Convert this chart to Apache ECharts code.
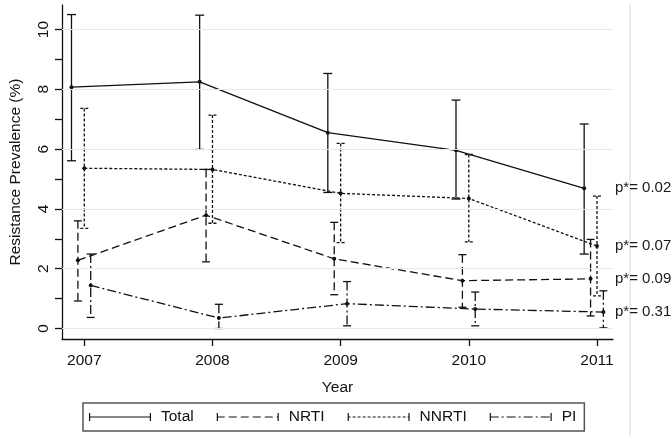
<!DOCTYPE html>
<html><head><meta charset="utf-8">
<script src="https://cdn.jsdelivr.net/npm/echarts@6/dist/echarts.min.js"></script>
<style>html,body{margin:0;padding:0;background:#fff}#c{width:672px;height:439px}</style>
</head><body><div id="c"></div>
<script>
// ---- data ----
const years = [2007, 2008, 2009, 2010, 2011];
const seriesNames = ['Total', 'NRTI', 'NNRTI', 'PI'];
const totalMean = [8.07, 8.25, 6.55, 5.96, 4.69];
const totalLow  = [5.61, 5.99, 4.55, 4.33, 2.49];
const totalHigh = [10.50, 10.48, 8.53, 7.64, 6.84];
const nrtiMean  = [2.28, 3.79, 2.33, 1.60, 1.66];
const nrtiLow   = [0.92, 2.23, 1.13, 0.71, 0.42];
const nrtiHigh  = [3.60, 5.32, 3.55, 2.47, 2.98];
const nnrtiMean = [5.36, 5.32, 4.52, 4.35, 2.76];
const nnrtiLow  = [3.35, 3.52, 2.87, 2.90, 1.09];
const nnrtiHigh = [7.36, 7.14, 6.19, 5.82, 4.43];
const piMean    = [1.44, 0.35, 0.83, 0.65, 0.55];
const piLow     = [0.37, 0.00, 0.09, 0.09, 0.02];
const piHigh    = [2.49, 0.81, 1.57, 1.22, 1.26];
// p-values in the order of seriesNames
const pValues   = ['0.02', '0.09', '0.07', '0.31'];
const yTickValues  = [0, 1, 2, 3, 4, 5, 6, 7, 8, 9, 10];
const yLabelValues = [0, 2, 4, 6, 8, 10];

// ---- styling ----
const FONT = 'Liberation Sans';
const INK = '#111';
const xMin = 2006.826, xMax = 2011.125;
const yMin = -0.351, yMax = 10.82;
const dodge = [-0.1, -0.05, 0, 0.05];
const dashes = [null, [8, 4], [3, 2], [9, 3, 2, 3]];
const means = [totalMean, nrtiMean, nnrtiMean, piMean];
const lows = [totalLow, nrtiLow, nnrtiLow, piLow];
const highs = [totalHigh, nrtiHigh, nnrtiHigh, piHigh];

function iconPath(pattern) {
  const W = 62, H = 8, t = 1.2, y0 = H / 2 - t / 2;
  let d = `M0,0h${t}v${H}h-${t}z M${W - t},0h${t}v${H}h-${t}z`;
  const pat = pattern || [W];
  let x = 0, i = 0;
  while (x < W) {
    const len = pat[i % pat.length];
    if (i % 2 === 0) {
      const x2 = Math.min(x + len, W);
      d += ` M${x},${y0}h${x2 - x}v${t}h-${x2 - x}z`;
    }
    x += len; i++;
  }
  return 'path://' + d;
}

function errRender(dash, capW) {
  return function (params, api) {
    const x = api.value(0), lo = api.value(1), hi = api.value(2);
    const p1 = api.coord([x, hi]), p2 = api.coord([x, lo]);
    const style = { stroke: INK, lineWidth: 1.3, lineDash: dash || null, fill: null };
    return { type: 'group', children: [
      { type: 'line', shape: { x1: p1[0], y1: p1[1], x2: p2[0], y2: p2[1] }, style },
      { type: 'line', shape: { x1: p1[0] - capW / 2, y1: p1[1], x2: p1[0] + capW / 2, y2: p1[1] }, style },
      { type: 'line', shape: { x1: p2[0] - capW / 2, y1: p2[1], x2: p2[0] + capW / 2, y2: p2[1] }, style }
    ]};
  };
}

const series = [];
// gridlines at labelled y ticks
series.push({
  type: 'line', name: 'grid', data: [], silent: true, z: 0,
  markLine: { silent: true, symbol: 'none', animation: false, label: { show: false },
    lineStyle: { color: '#e8e8e8', width: 1.2, type: 'solid' },
    data: yLabelValues.map(v => ({ yAxis: v })) }
});
seriesNames.forEach((name, k) => {
  series.push({
    type: 'custom', name: name + ' CI', z: 3,
    renderItem: errRender(dashes[k], k === 0 ? 9 : 8),
    data: years.map((y, i) => [y + dodge[k], lows[k][i], highs[k][i]])
  });
  series.push({
    type: 'line', name: name, z: 4,
    data: years.map((y, i) => [y + dodge[k], means[k][i]]),
    symbol: 'circle', symbolSize: 4, showSymbol: true,
    itemStyle: { color: INK },
    lineStyle: { color: INK, width: 1.3, type: dashes[k] || 'solid' }
  });
});
// p-value labels at the right edge of the plot
series.push({
  type: 'scatter', name: 'p', symbolSize: 0, z: 5, silent: true,
  itemStyle: { opacity: 1, color: INK },
  data: seriesNames.map((n, k) => [xMax, means[k][years.length - 1]]),
  label: { show: true, position: 'right', distance: 2,
    formatter: p => 'p*= ' + pValues[p.dataIndex],
    fontFamily: FONT, fontSize: 15, color: '#1a1a1a', opacity: 1 },
  emphasis: { disabled: true }
});

const chart = echarts.init(document.getElementById('c'), null, { renderer: 'canvas' });
chart.setOption({
  animation: false,
  backgroundColor: '#fff',
  grid: { left: 61, right: 59, top: 5, bottom: 100, containLabel: false },
  xAxis: {
    type: 'value', min: xMin, max: xMax,
    axisLine: { show: true, onZero: false, lineStyle: { color: INK, width: 1.3 } },
    axisTick: { show: true, customValues: years, length: 7, lineStyle: { color: INK, width: 1.3 } },
    axisLabel: { customValues: years, formatter: v => String(Math.round(v)), fontFamily: FONT, fontSize: 15.5, color: INK, margin: 14 },
    splitLine: { show: false },
    name: 'Year', nameLocation: 'middle', nameGap: 41,
    nameTextStyle: { fontFamily: FONT, fontSize: 15.5, color: INK }
  },
  yAxis: {
    type: 'value', min: yMin, max: yMax,
    axisLine: { show: true, onZero: false, lineStyle: { color: INK, width: 1.3 } },
    axisTick: { show: true, customValues: yTickValues, length: 7, lineStyle: { color: INK, width: 1.3 } },
    axisLabel: { customValues: yLabelValues, rotate: 90, fontFamily: FONT, fontSize: 15.5, color: INK, margin: 10 },
    splitLine: { show: false },
    name: 'Resistance Prevalence (%)', nameLocation: 'middle', nameGap: 38,
    nameTextStyle: { fontFamily: FONT, fontSize: 15.5, color: INK }
  },
  legend: {
    data: seriesNames.map((n, k) => ({ name: n, icon: iconPath(dashes[k]) })),
    left: 83, top: 403, orient: 'horizontal',
    itemWidth: 62, itemHeight: 8, itemGap: 23,
    padding: [6, 8, 6, 6],
    borderColor: '#555', borderWidth: 1.5,
    itemStyle: { color: INK, borderWidth: 0 },
    textStyle: { fontFamily: FONT, fontSize: 15.5, color: INK, padding: [0, 0, 0, 5] },
    selectedMode: false
  },
  graphic: [{ type: 'line', shape: { x1: 630, y1: 4, x2: 630, y2: 436 }, style: { stroke: '#ececec', lineWidth: 2 }, silent: true }],
  series
});
</script></body></html>
